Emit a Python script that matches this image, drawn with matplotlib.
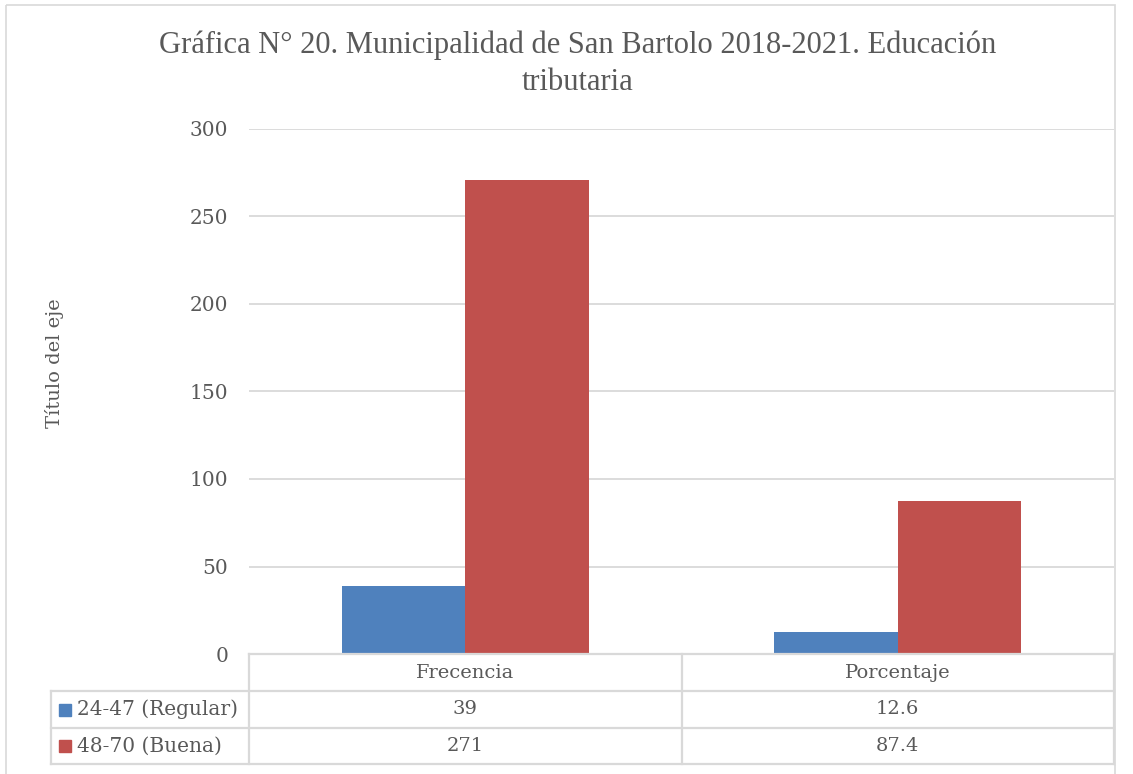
import matplotlib
matplotlib.use("Agg")
import matplotlib.pyplot as plt
from matplotlib.transforms import Affine2D, blended_transform_factory
from matplotlib.lines import Line2D
from matplotlib.patches import Rectangle

# ---- data ----
categories = ["Frecencia", "Porcentaje"]
series_names = ["24-47 (Regular)", "48-70 (Buena)"]
regular = [39, 12.6]
buena = [271, 87.4]
value_labels = [["39", "12.6"], ["271", "87.4"]]
yticks = [0, 50, 100, 150, 200, 250, 300]
title = "Gráfica N° 20. Municipalidad de San Bartolo 2018-2021. Educación\ntributaria"
ylabel = "Título del eje"

# ---- style ----
W, H = 1133, 774
FONT = "DejaVu Serif"
TFONT = "Liberation Serif"
TXT = "#595959"
GRID = "#D9D9D9"
colors = ["#4F81BD", "#C0504D"]

fig = plt.figure(figsize=(W / 100, H / 100), dpi=100)
px = Affine2D().scale(1 / W, -1 / H).translate(0, 1) + fig.transFigure

# chart border
fig.add_artist(Rectangle((6, 5), 1110 - 1, 775, transform=px, fill=False,
                         edgecolor=GRID, linewidth=1.2))

ax_l, ax_r, ax_t, ax_b = 249, 1114, 129, 654
ax = fig.add_axes([ax_l / W, 1 - ax_b / H, (ax_r - ax_l) / W, (ax_b - ax_t) / H])
ax.set_xlim(-0.5, 1.5)
ax.set_ylim(0, 300)
for s in ax.spines.values():
    s.set_visible(False)
ax.set_yticks(yticks)
ax.set_yticklabels([str(t) for t in yticks], fontsize=14.5, color=TXT, family=FONT)
ax.tick_params(axis="y", length=0, pad=15)
ax.set_xticks([])
ax.yaxis.grid(True, color=GRID, linewidth=1.3)
ax.set_axisbelow(True)

bw = 0.286
xs = range(len(categories))
ax.bar([x - bw / 2 for x in xs], regular, width=bw, color=colors[0], zorder=3)
ax.bar([x + bw / 2 for x in xs], buena, width=bw, color=colors[1], zorder=3)

# title and y label
fig.text(578 / W, 1 - 63.5 / H, title, ha="center", va="center", fontsize=22,
         color=TXT, family=TFONT, linespacing=1.38)
fig.text(55 / W, 1 - 363 / H, ylabel, ha="center", va="center", rotation=90,
         fontsize=14, color=TXT, family=FONT)

# ---- data table ----
lw = 1.6
rows_y = [654, 691, 728, 764]
tab_left = 51
fig.add_artist(Line2D([ax_l, ax_r], [rows_y[0], rows_y[0]], transform=px, color=GRID, lw=lw))
for y in rows_y[1:]:
    fig.add_artist(Line2D([tab_left, ax_r], [y, y], transform=px, color=GRID, lw=lw))
fig.add_artist(Line2D([tab_left, tab_left], [rows_y[1], rows_y[3]], transform=px, color=GRID, lw=lw))
bt = blended_transform_factory(ax.transData, px)
for xb in [-0.5, 0.5, 1.5]:
    fig.add_artist(Line2D([xb, xb], [rows_y[0], rows_y[3]], transform=bt, color=GRID, lw=lw))

for i, c in enumerate(categories):
    fig.text(i, (rows_y[0] + rows_y[1]) / 2, c, transform=bt, ha="center", va="center",
             fontsize=14, color=TXT, family=FONT)
    for r in range(2):
        fig.text(i, (rows_y[r + 1] + rows_y[r + 2]) / 2, value_labels[r][i], transform=bt,
                 ha="center", va="center", fontsize=14, color=TXT, family=FONT)

for r, name in enumerate(series_names):
    yc = (rows_y[r + 1] + rows_y[r + 2]) / 2
    fig.add_artist(Rectangle((59, yc - 6), 12, 12, transform=px, color=colors[r]))
    fig.text(77 / W, 1 - yc / H, name, ha="left", va="center", fontsize=14.5,
             color=TXT, family=FONT)

fig.savefig("out.png", dpi=100, facecolor="white")
